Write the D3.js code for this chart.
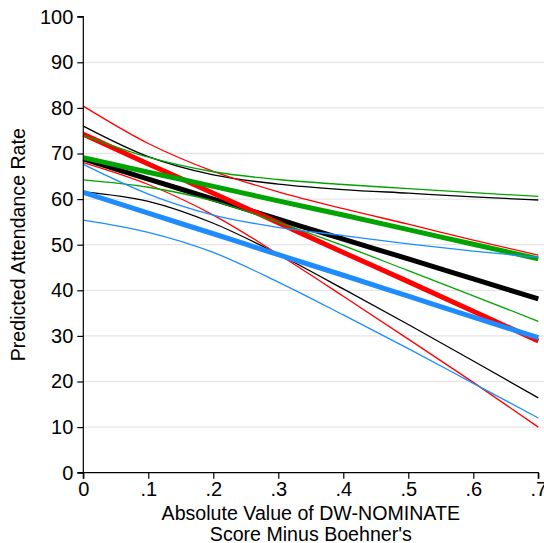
<!DOCTYPE html>
<html><head><meta charset="utf-8">
<script src="https://cdn.jsdelivr.net/npm/d3@7"></script>
<style>body{margin:0;background:#fff}svg{display:block}</style>
</head><body><svg id="c" width="544" height="543"></svg>
<script>
const xs = [0, 0.1, 0.2, 0.3, 0.4, 0.5, 0.6, 0.7];
const xTickLabels = ["0", ".1", ".2", ".3", ".4", ".5", ".6", ".7"];
const yTicks = [0, 10, 20, 30, 40, 50, 60, 70, 80, 90, 100];

const blackFit   = [68.8, 64.4, 60.0, 55.6, 51.2, 46.9, 42.5, 38.1];
const blackUpper = [76.0, 69.3, 65.3, 63.3, 62.1, 61.3, 60.5, 59.8];
const blackLower = [61.6, 59.5, 54.7, 47.9, 40.3, 32.5, 24.5, 16.4];

const redFit   = [74.2, 67.7, 61.3, 54.8, 48.3, 41.9, 35.4, 28.9];
const redUpper = [80.4, 72.2, 66.1, 61.6, 57.9, 54.5, 51.0, 47.7];
const redLower = [68.0, 63.2, 56.5, 47.9, 38.7, 29.3, 19.8, 10.0];

const greenFit   = [69.1, 65.9, 62.8, 59.6, 56.5, 53.3, 50.1, 46.9];
const greenUpper = [74.0, 69.2, 66.0, 64.3, 63.2, 62.3, 61.4, 60.6];
const greenLower = [64.2, 62.6, 59.6, 54.9, 49.8, 44.3, 38.8, 33.2];

const blueFit   = [61.5, 56.9, 52.4, 47.8, 43.3, 38.7, 34.1, 29.6];
const blueUpper = [67.6, 61.1, 56.5, 53.8, 52.0, 50.2, 48.6, 47.2];
const blueLower = [55.4, 52.7, 48.3, 41.8, 34.6, 27.2, 19.6, 12.0];

const groups = [
  {color: "#000000", fit: blackFit, upper: blackUpper, lower: blackLower},
  {color: "#ff0000", fit: redFit, upper: redUpper, lower: redLower},
  {color: "#00a400", fit: greenFit, upper: greenUpper, lower: greenLower},
  {color: "#1e8cff", fit: blueFit, upper: blueUpper, lower: blueLower}
];

const svg = d3.select("#c");
const font = "'Liberation Sans', Arial, sans-serif";
const x = d3.scaleLinear().domain([0, 0.7]).range([83.3, 538.3]);
const y = d3.scaleLinear().domain([0, 100]).range([472.7, 16.7]);

// gridlines
svg.append("g").selectAll("line").data(yTicks.filter(d => d > 0 && d < 100)).join("line")
  .attr("x1", x(0)).attr("x2", 544).attr("y1", d => y(d)).attr("y2", d => y(d))
  .attr("stroke", "#e6e6e6").attr("stroke-width", 1.3);

const line = d3.line().x((d, i) => x(xs[i])).y(d => y(d)).curve(d3.curveMonotoneX);
const plot = svg.append("g");
groups.forEach(g => {
  [g.upper, g.lower].forEach(arr => {
    plot.append("path").attr("d", line(arr)).attr("fill", "none")
      .attr("stroke", g.color).attr("stroke-width", 1.3);
  });
  plot.append("path").attr("d", line(g.fit)).attr("fill", "none")
    .attr("stroke", g.color).attr("stroke-width", 5);
});

// axes
const yAxis = d3.axisLeft(y).tickValues(yTicks).tickSize(6).tickPadding(4);
const yg = svg.append("g").attr("transform", `translate(${x(0)},0)`).call(yAxis);
const xAxis = d3.axisBottom(x).tickValues(xs).tickSize(6).tickPadding(3.5)
  .tickFormat((d, i) => xTickLabels[i]);
const xg = svg.append("g").attr("transform", `translate(0,${y(0)})`).call(xAxis);
[yg, xg].forEach(g => {
  g.select(".domain").attr("stroke", "#000").attr("stroke-width", 1.2);
  g.selectAll(".tick line").attr("stroke", "#000").attr("stroke-width", 1.2);
  g.selectAll("text").attr("font-family", font).attr("font-size", 20).attr("fill", "#000");
});
xg.select(".domain").attr("d", `M${x(0)},6V0H${x(0.7)}V6`);
yg.select(".domain").attr("d", `M-6,${y(100)}H0V${y(0)}H-6`);

svg.append("text").attr("x", 310.8).attr("y", 519.5).attr("text-anchor", "middle")
  .attr("font-family", font).attr("font-size", 19.6).text("Absolute Value of DW-NOMINATE");
svg.append("text").attr("x", 310.8).attr("y", 541).attr("text-anchor", "middle")
  .attr("font-family", font).attr("font-size", 19.6).text("Score Minus Boehner's");
svg.append("text").attr("transform", `translate(25,${(y(0) + y(100)) / 2}) rotate(-90)`)
  .attr("text-anchor", "middle").attr("font-family", font).attr("font-size", 19.6)
  .text("Predicted Attendance Rate");
</script></body></html>
